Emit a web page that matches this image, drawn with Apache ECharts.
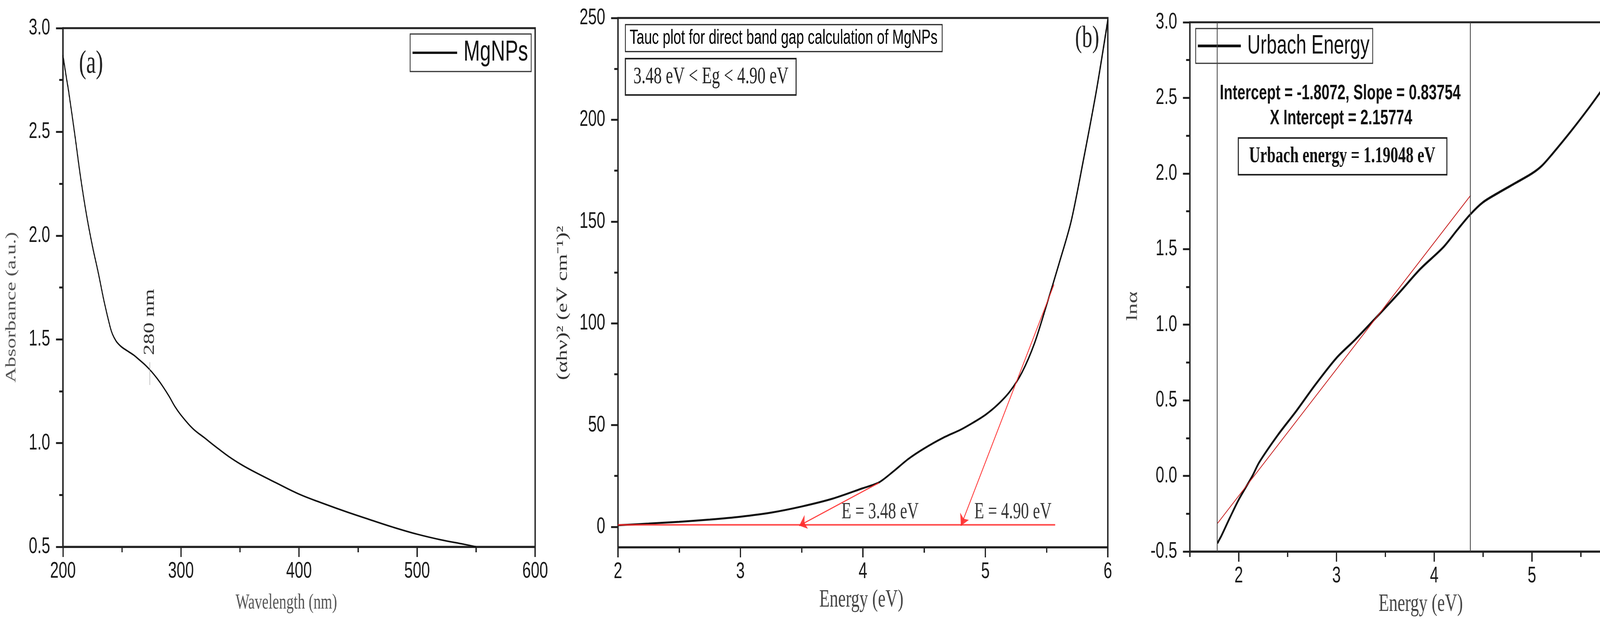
<!DOCTYPE html>
<html lang="en">
<head>
<meta charset="UTF-8">
<title>MgNPs - absorbance, Tauc plot, Urbach energy</title>
<script src="https://cdn.jsdelivr.net/npm/echarts@6/dist/echarts.min.js"></script>
<style>
    html,body{margin:0;padding:0;width:4320px;height:1599px;overflow:hidden;background:#fff;}
    /* the source figure is squeezed horizontally, so the chart is drawn wider and scaled back */
    #chart{width:6353px;height:1599px;transform:scaleX(0.68);transform-origin:0 0;}
</style>
</head>
<body>
<div id="chart"></div>
<script>
    // (a) UV-vis absorbance
    var wavelength = [200,203,205,210,215,220,225,230,235,240,242,245,247,250,255,260,265,270,275,280,285,290,295,300,310,320,330,340,350,360,380,400,420,440,460,480,500,520,540,550];
    var absorbance = [2.87,2.76,2.69,2.49,2.28,2.10,1.95,1.82,1.68,1.56,1.525,1.492,1.478,1.462,1.443,1.424,1.40,1.375,1.345,1.31,1.27,1.225,1.175,1.135,1.07,1.025,0.98,0.937,0.90,0.868,0.81,0.754,0.71,0.669,0.631,0.594,0.561,0.534,0.512,0.50];
    var peakMark = [[273.6,1.39],[273.6,1.28]];

    // (b) Tauc plot
    var taucEnergy = [2.0,2.25,2.5,2.75,3.0,3.25,3.5,3.75,4.0,4.13,4.25,4.37,4.5,4.65,4.8,4.9,5.0,5.1,5.2,5.3,5.4,5.5,5.6,5.7,5.8,5.9,5.95,6.0];
    var taucValue = [0.8,1.6,2.5,3.6,5.0,7.0,10.0,13.8,19.0,21.8,27.3,33.3,38.5,43.6,47.8,51.2,55.0,60.0,66.5,76.0,90,109,129,150,180,212,230,249];
    var baseline = [[2,1],[5.57,1]];
    var tangentLow = [[4.13,21.6],[3.48,0.6]];
    var tangentHigh = [[5.56,119],[4.80,0.5]];
    var taucTicks = [0,50,100,150,200,250];
    var taucMinor = [25,75,125,175,225];

    // (c) Urbach energy
    var urbachEnergy = [1.783,1.796,1.82,1.91,2.0,2.14,2.21,2.4,2.59,2.78,3.0,3.19,3.41,3.64,3.86,4.09,4.24,4.37,4.5,4.65,4.84,5.0,5.1,5.21,5.4,5.59,5.77,5.96,6.11,6.19];
    var lnAlpha = [-0.446,-0.428,-0.40,-0.276,-0.157,0.0,0.09,0.27,0.43,0.60,0.78,0.90,1.05,1.21,1.37,1.51,1.63,1.73,1.81,1.87,1.94,2.0,2.05,2.13,2.28,2.44,2.60,2.76,2.86,2.90];
    var fitIntercept = -1.8072;
    var fitSlope = 0.83754;
    var fitRange = [1.784,4.374];
    var edgeLines = [1.776,4.374];
    var urbachTicks = [2,3,4,5,6];
    var urbachMinor = [1.5,2.5,3.5,4.5,5.5,6.5];

    var SQ = 0.68;
    var SERIF = '"Liberation Serif","Times New Roman",serif';
    var SANS = '"Liberation Sans",Arial,sans-serif';
    var RED = '#ff2a2a';

    function px(x){ return x / SQ; }
    function zip(xs, ys){ return xs.map(function (x, i) { return [x, ys[i]]; }); }

    function axisLine(){ return {show:true, onZero:false, lineStyle:{color:'#222', width:5}}; }
    function axisTick(len, vals){
        var t = {show:true, inside:false, length:len, lineStyle:{color:'#222', width:5}};
        if (vals) t.customValues = vals;
        return t;
    }
    function minor(){ return {show:true, splitNumber:2, length:14, lineStyle:{color:'#222', width:5}}; }
    function labels(margin, fmt, vals){
        var l = {color:'#1a1a1a', fontFamily:SANS, fontSize:58, margin:margin};
        if (fmt) l.formatter = fmt;
        if (vals) l.customValues = vals;
        return l;
    }
    function oneDec(v){ return v.toFixed(1); }

    function txt(x, y, text, family, size, color, rot, weight){
        return {type:'text', x:px(x), y:y, rotation:rot || 0, z:101,
            style:{text:text, fontFamily:family, fontSize:size, fill:color, fontWeight:weight || 'normal',
                align:'center', verticalAlign:'middle'}};
    }
    function box(x0, y0, x1, y1, lw){
        return {type:'rect', z:100, shape:{x:px(x0), y:y0, width:px(x1 - x0), height:y1 - y0},
            style:{fill:'#fff', stroke:'#222', lineWidth:lw}};
    }

    var chart = echarts.init(document.getElementById('chart'));
    var option = {
        animation:false,
        backgroundColor:'#fff',
        grid:[
            {left:px(161), top:72, width:px(1370 - 161), height:1327, show:true, borderColor:'#222', borderWidth:5},
            {left:px(1582), top:46, width:px(2836 - 1582), height:1354, show:true, borderColor:'#222', borderWidth:5},
            {left:px(3046), top:57, width:px(4297 - 3046), height:1354, show:true, borderColor:'#222', borderWidth:5}
        ],
        xAxis:[
            {type:'value', gridIndex:0, position:'bottom', min:200, max:600, interval:100,
                axisLine:axisLine(), axisTick:axisTick(26), minorTick:minor(), splitLine:{show:false},
                axisLabel:labels(34)},
            {type:'value', gridIndex:1, position:'bottom', min:2, max:6, interval:1,
                axisLine:axisLine(), axisTick:axisTick(26), minorTick:minor(), splitLine:{show:false},
                axisLabel:labels(34)},
            {type:'value', gridIndex:2, position:'bottom', min:1.5, max:6.5,
                axisLine:axisLine(), axisTick:axisTick(26, urbachTicks), splitLine:{show:false},
                axisLabel:labels(34, null, urbachTicks)},
            // minor ticks of panel c, drawn by a bare overlay axis
            {type:'value', gridIndex:2, position:'bottom', min:1.5, max:6.5,
                axisLine:{show:false, onZero:false}, axisTick:axisTick(14, urbachMinor), splitLine:{show:false},
                axisLabel:{show:false}}
        ],
        yAxis:[
            {type:'value', gridIndex:0, position:'left', min:0.5, max:3.0, interval:0.5,
                axisLine:axisLine(), axisTick:axisTick(26), minorTick:minor(), splitLine:{show:false},
                axisLabel:labels(48, oneDec)},
            {type:'value', gridIndex:1, position:'left', min:-10, max:250,
                axisLine:axisLine(), axisTick:axisTick(26, taucTicks), splitLine:{show:false},
                axisLabel:labels(48, null, taucTicks)},
            {type:'value', gridIndex:2, position:'left', min:-0.5, max:3.0, interval:0.5,
                axisLine:axisLine(), axisTick:axisTick(26), minorTick:minor(), splitLine:{show:false},
                axisLabel:labels(48, oneDec)},
            // minor ticks of panel b
            {type:'value', gridIndex:1, position:'left', min:-10, max:250,
                axisLine:{show:false, onZero:false}, axisTick:axisTick(14, taucMinor), splitLine:{show:false},
                axisLabel:{show:false}}
        ],
        legend:[
            {data:['MgNPs'], left:px(1050), top:87, orient:'vertical',
                padding:[11, 12, 11, 9], itemWidth:168, itemHeight:6, icon:'rect',
                backgroundColor:'#fff', borderColor:'#333', borderWidth:3, selectedMode:false,
                textStyle:{fontFamily:SANS, fontSize:74, lineHeight:74, color:'#111', padding:[0,0,0,19]}},
            {data:['Urbach Energy'], left:px(3061), top:73, orient:'vertical',
                padding:[10, 12, 10, 8], itemWidth:162, itemHeight:7, icon:'rect',
                backgroundColor:'#fff', borderColor:'#333', borderWidth:3, selectedMode:false,
                textStyle:{fontFamily:SANS, fontSize:69, lineHeight:69, color:'#111', padding:[0,0,0,19]}}
        ],
        series:[
            {name:'MgNPs', type:'line', xAxisIndex:0, yAxisIndex:0, data:zip(wavelength, absorbance),
                smooth:0.4, symbol:'none', color:'#111', lineStyle:{color:'#111', width:4}, z:3,
                markLine:{silent:true, symbol:['none','none'], label:{show:false},
                    lineStyle:{color:'#999', width:2, type:'solid'},
                    data:[[{coord:peakMark[0]}, {coord:peakMark[1]}]]}},
            {name:'Tauc', type:'line', xAxisIndex:1, yAxisIndex:1, data:zip(taucEnergy, taucValue),
                smooth:0.3, symbol:'none', color:'#111', lineStyle:{color:'#111', width:5}, z:3},
            {name:'Baseline', type:'line', xAxisIndex:1, yAxisIndex:1, data:baseline,
                symbol:'none', color:RED, lineStyle:{color:RED, width:4, opacity:0.85}, z:4,
                markLine:{silent:true, symbol:['none','arrow'], symbolSize:28, label:{show:false},
                    lineStyle:{color:RED, width:3, type:'solid', opacity:0.9},
                    data:[[{coord:tangentLow[0]}, {coord:tangentLow[1]}],
                        [{coord:tangentHigh[0]}, {coord:tangentHigh[1]}]]}},
            {name:'Urbach Energy', type:'line', xAxisIndex:2, yAxisIndex:2, data:zip(urbachEnergy, lnAlpha),
                smooth:0.3, symbol:'none', color:'#111', lineStyle:{color:'#111', width:6}, z:3,
                markLine:{silent:true, symbol:['none','none'], label:{show:false},
                    lineStyle:{color:'#444', width:3, type:'solid'},
                    data:edgeLines.map(function (x) { return {xAxis:x}; })}},
            {name:'Linear fit', type:'line', xAxisIndex:2, yAxisIndex:2,
                data:fitRange.map(function (x) { return [x, fitIntercept + fitSlope * x]; }),
                symbol:'none', color:'#c82020', lineStyle:{color:'#c82020', width:2.5}, z:4}
        ],
        graphic:[
            // panel a
            txt(233, 164, '(a)', SERIF, 82, '#222'),
            txt(384, 824, '280 nm', SERIF, 56, '#333', Math.PI / 2),
            txt(30, 786, 'Absorbance (a.u.)', SERIF, 54, '#555', Math.PI / 2),
            txt(733, 1543, 'Wavelength (nm)', SERIF, 55, '#555'),
            // panel b
            box(1601, 63, 2412, 132, 3),
            txt(2006, 98, 'Tauc plot for direct band gap calculation of MgNPs', SANS, 52, '#000'),
            box(1601, 150, 2038, 243, 4),
            txt(1820, 197, '3.48 eV < Eg < 4.90 eV', SERIF, 61, '#222'),
            txt(2783, 100, '(b)', SERIF, 78, '#222'),
            txt(1441, 775, '(αhν)² (eV cm⁻¹)²', SERIF, 57, '#333', Math.PI / 2),
            txt(2253, 1310, 'E = 3.48 eV', SERIF, 60, '#333'),
            txt(2593, 1310, 'E = 4.90 eV', SERIF, 60, '#333'),
            txt(2205, 1535, 'Energy (eV)', SERIF, 64, '#444'),
            // panel c
            txt(3431, 239, 'Intercept = -1.8072, Slope = 0.83754', SANS, 54, '#111', 0, 'bold'),
            txt(3433, 303, 'X Intercept = 2.15774', SANS, 54, '#111', 0, 'bold'),
            box(3170, 353, 3704, 447, 4),
            txt(3436, 400, 'Urbach energy = 1.19048 eV', SERIF, 58, '#111', 0, 'bold'),
            txt(4243, 105, '(c)', SERIF, 75, '#222'),
            txt(2900, 783, 'lnα', SERIF, 58, '#444', Math.PI / 2),
            txt(3637, 1546, 'Energy (eV)', SERIF, 64, '#444')
        ]
    };
    chart.setOption(option);
</script>
</body>
</html>
